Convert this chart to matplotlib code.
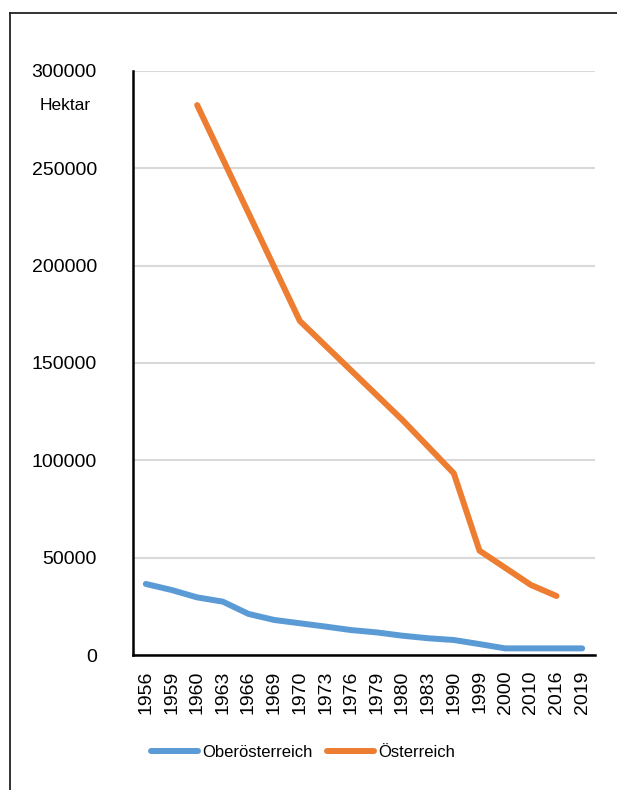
import numpy as np
import matplotlib
matplotlib.use('Agg')
import matplotlib.pyplot as plt
from matplotlib.lines import Line2D

plt.rcParams['font.family'] = ['Liberation Sans', 'DejaVu Sans']

# Daten (Hektar)
jahre = ['1956', '1959', '1960', '1963', '1966', '1969', '1970', '1973', '1976',
		 '1979', '1980', '1983', '1990', '1999', '2000', '2010', '2016', '2019']
ooe = [36500, 33400, 29600, 27400, 21100, 18000, 16300, 14600, 12800,
	   11600, 9900, 8600, 7700, 5600, 3400, 3400, 3400, 3400]
oesterreich = [np.nan, np.nan, 282500, np.nan, np.nan, np.nan, 171600, np.nan, np.nan,
			   np.nan, 120700, np.nan, 93300, 53600, np.nan, 36000, 30300, np.nan]

blau = '#5B9BD5'
orange = '#ED7D31'

fig = plt.figure(figsize=(6.17, 7.9), dpi=100)
ax = fig.add_axes([133/617, 1 - 655/790, (595-133)/617, (655-71)/790])

x = np.arange(len(jahre))
ax.plot(x, ooe, c=blau, lw=4.3, solid_capstyle='round', solid_joinstyle='round',
		label='Oberösterreich', zorder=3)
oe = np.array(oesterreich, dtype=float)
m = ~np.isnan(oe)
ax.plot(x[m], oe[m], c=orange, lw=4.3, solid_capstyle='round', solid_joinstyle='round',
		label='Österreich', zorder=3)

ax.set_xlim(-0.5, len(jahre) - 0.5)
ax.set_ylim(0, 300000)
ax.set_yticks(range(0, 300001, 50000))
ax.set_yticklabels([str(v) for v in range(0, 300001, 50000)])
ax.set_xticks(x)
ax.set_xticklabels(jahre, rotation=90)
ax.tick_params(axis='y', length=0, pad=26, labelsize=14)
ax.tick_params(axis='x', length=0, pad=11, labelsize=14)

ax.grid(axis='y', color='#D9D9D9', lw=1.5)
ax.set_axisbelow(True)
for s in ['top', 'right']:
	ax.spines[s].set_visible(False)
for s in ['left', 'bottom']:
	ax.spines[s].set_linewidth(1.8)
	ax.spines[s].set_color('black')

fig.text(65/617, 1 - 105/790, 'Hektar', ha='center', va='center', fontsize=12.5)

leg = fig.legend(loc='center', bbox_to_anchor=(0.491, 0.048), ncol=2, frameon=False,
				 fontsize=12, handlelength=2.8, handletextpad=0.24, columnspacing=0.9)
for l in leg.get_lines():
	l.set_linewidth(4.3)

# Rahmen
fig.add_artist(Line2D([10/617, 10/617], [0, 1 - 13/790], transform=fig.transFigure,
					  color='#222222', lw=1.3))
fig.add_artist(Line2D([10/617, 1], [1 - 13/790, 1 - 13/790], transform=fig.transFigure,
					  color='#222222', lw=1.3))

plt.savefig('out.png', dpi=100)
